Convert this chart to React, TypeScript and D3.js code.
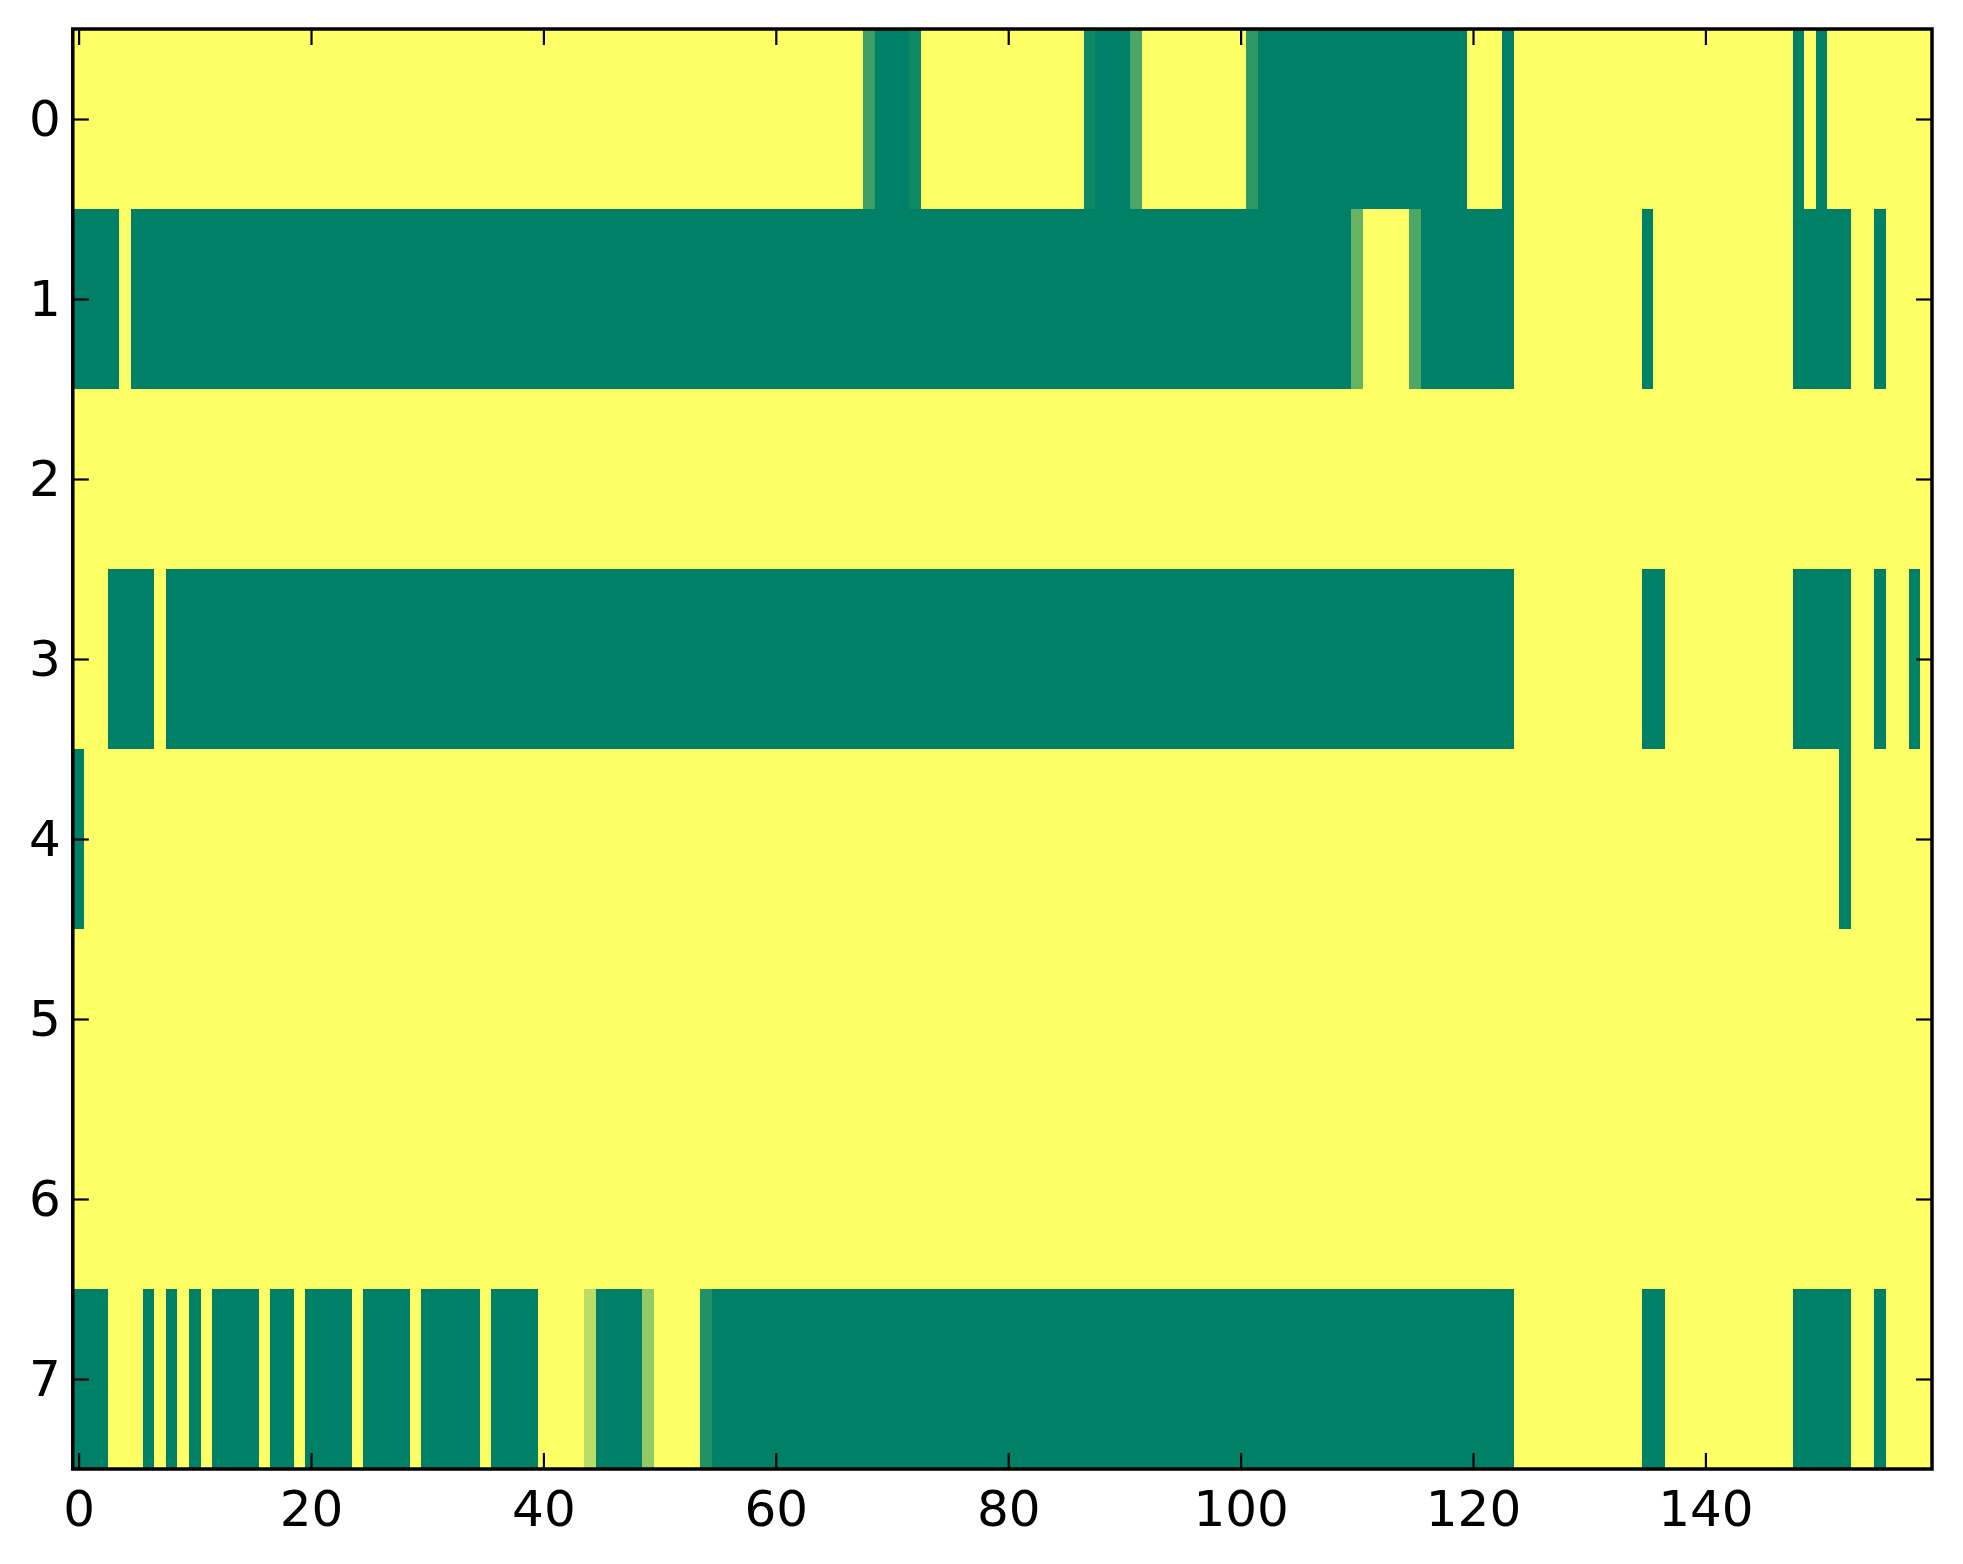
import React, { useEffect, useRef } from 'react';
import * as d3 from 'd3';

// one array per image row, 160 columns each
const row0 = [
  1, 1, 1, 1, 1, 1, 1, 1, 1, 1, 1, 1, 1, 1, 1, 1, 1, 1, 1, 1,
  1, 1, 1, 1, 1, 1, 1, 1, 1, 1, 1, 1, 1, 1, 1, 1, 1, 1, 1, 1,
  1, 1, 1, 1, 1, 1, 1, 1, 1, 1, 1, 1, 1, 1, 1, 1, 1, 1, 1, 1,
  1, 1, 1, 1, 1, 1, 1, 1, 0.24, 0, 0, 0, 0.06, 1, 1, 1, 1, 1, 1, 1,
  1, 1, 1, 1, 1, 1, 1, 0.06, 0, 0, 0, 0.29, 1, 1, 1, 1, 1, 1, 1, 1,
  1, 0.18, 0, 0, 0, 0, 0, 0, 0, 0, 0, 0, 0, 0, 0, 0, 0, 0, 0, 0,
  1, 1, 1, 0, 1, 1, 1, 1, 1, 1, 1, 1, 1, 1, 1, 1, 1, 1, 1, 1,
  1, 1, 1, 1, 1, 1, 1, 1, 0, 1, 0, 1, 1, 1, 1, 1, 1, 1, 1, 1,
];
const row1 = [
  0, 0, 0, 0, 1, 0, 0, 0, 0, 0, 0, 0, 0, 0, 0, 0, 0, 0, 0, 0,
  0, 0, 0, 0, 0, 0, 0, 0, 0, 0, 0, 0, 0, 0, 0, 0, 0, 0, 0, 0,
  0, 0, 0, 0, 0, 0, 0, 0, 0, 0, 0, 0, 0, 0, 0, 0, 0, 0, 0, 0,
  0, 0, 0, 0, 0, 0, 0, 0, 0, 0, 0, 0, 0, 0, 0, 0, 0, 0, 0, 0,
  0, 0, 0, 0, 0, 0, 0, 0, 0, 0, 0, 0, 0, 0, 0, 0, 0, 0, 0, 0,
  0, 0, 0, 0, 0, 0, 0, 0, 0, 0, 0.4, 1, 1, 1, 1, 0.31, 0, 0, 0, 0,
  0, 0, 0, 0, 1, 1, 1, 1, 1, 1, 1, 1, 1, 1, 1, 0, 1, 1, 1, 1,
  1, 1, 1, 1, 1, 1, 1, 1, 0, 0, 0, 0, 0, 1, 1, 0, 1, 1, 1, 1,
];
const row2 = [
  1, 1, 1, 1, 1, 1, 1, 1, 1, 1, 1, 1, 1, 1, 1, 1, 1, 1, 1, 1,
  1, 1, 1, 1, 1, 1, 1, 1, 1, 1, 1, 1, 1, 1, 1, 1, 1, 1, 1, 1,
  1, 1, 1, 1, 1, 1, 1, 1, 1, 1, 1, 1, 1, 1, 1, 1, 1, 1, 1, 1,
  1, 1, 1, 1, 1, 1, 1, 1, 1, 1, 1, 1, 1, 1, 1, 1, 1, 1, 1, 1,
  1, 1, 1, 1, 1, 1, 1, 1, 1, 1, 1, 1, 1, 1, 1, 1, 1, 1, 1, 1,
  1, 1, 1, 1, 1, 1, 1, 1, 1, 1, 1, 1, 1, 1, 1, 1, 1, 1, 1, 1,
  1, 1, 1, 1, 1, 1, 1, 1, 1, 1, 1, 1, 1, 1, 1, 1, 1, 1, 1, 1,
  1, 1, 1, 1, 1, 1, 1, 1, 1, 1, 1, 1, 1, 1, 1, 1, 1, 1, 1, 1,
];
const row3 = [
  1, 1, 1, 0, 0, 0, 0, 1, 0, 0, 0, 0, 0, 0, 0, 0, 0, 0, 0, 0,
  0, 0, 0, 0, 0, 0, 0, 0, 0, 0, 0, 0, 0, 0, 0, 0, 0, 0, 0, 0,
  0, 0, 0, 0, 0, 0, 0, 0, 0, 0, 0, 0, 0, 0, 0, 0, 0, 0, 0, 0,
  0, 0, 0, 0, 0, 0, 0, 0, 0, 0, 0, 0, 0, 0, 0, 0, 0, 0, 0, 0,
  0, 0, 0, 0, 0, 0, 0, 0, 0, 0, 0, 0, 0, 0, 0, 0, 0, 0, 0, 0,
  0, 0, 0, 0, 0, 0, 0, 0, 0, 0, 0, 0, 0, 0, 0, 0, 0, 0, 0, 0,
  0, 0, 0, 0, 1, 1, 1, 1, 1, 1, 1, 1, 1, 1, 1, 0, 0, 1, 1, 1,
  1, 1, 1, 1, 1, 1, 1, 1, 0, 0, 0, 0, 0, 1, 1, 0, 1, 1, 0, 1,
];
const row4 = [
  0, 1, 1, 1, 1, 1, 1, 1, 1, 1, 1, 1, 1, 1, 1, 1, 1, 1, 1, 1,
  1, 1, 1, 1, 1, 1, 1, 1, 1, 1, 1, 1, 1, 1, 1, 1, 1, 1, 1, 1,
  1, 1, 1, 1, 1, 1, 1, 1, 1, 1, 1, 1, 1, 1, 1, 1, 1, 1, 1, 1,
  1, 1, 1, 1, 1, 1, 1, 1, 1, 1, 1, 1, 1, 1, 1, 1, 1, 1, 1, 1,
  1, 1, 1, 1, 1, 1, 1, 1, 1, 1, 1, 1, 1, 1, 1, 1, 1, 1, 1, 1,
  1, 1, 1, 1, 1, 1, 1, 1, 1, 1, 1, 1, 1, 1, 1, 1, 1, 1, 1, 1,
  1, 1, 1, 1, 1, 1, 1, 1, 1, 1, 1, 1, 1, 1, 1, 1, 1, 1, 1, 1,
  1, 1, 1, 1, 1, 1, 1, 1, 1, 1, 1, 1, 0, 1, 1, 1, 1, 1, 1, 1,
];
const row5 = [
  1, 1, 1, 1, 1, 1, 1, 1, 1, 1, 1, 1, 1, 1, 1, 1, 1, 1, 1, 1,
  1, 1, 1, 1, 1, 1, 1, 1, 1, 1, 1, 1, 1, 1, 1, 1, 1, 1, 1, 1,
  1, 1, 1, 1, 1, 1, 1, 1, 1, 1, 1, 1, 1, 1, 1, 1, 1, 1, 1, 1,
  1, 1, 1, 1, 1, 1, 1, 1, 1, 1, 1, 1, 1, 1, 1, 1, 1, 1, 1, 1,
  1, 1, 1, 1, 1, 1, 1, 1, 1, 1, 1, 1, 1, 1, 1, 1, 1, 1, 1, 1,
  1, 1, 1, 1, 1, 1, 1, 1, 1, 1, 1, 1, 1, 1, 1, 1, 1, 1, 1, 1,
  1, 1, 1, 1, 1, 1, 1, 1, 1, 1, 1, 1, 1, 1, 1, 1, 1, 1, 1, 1,
  1, 1, 1, 1, 1, 1, 1, 1, 1, 1, 1, 1, 1, 1, 1, 1, 1, 1, 1, 1,
];
const row6 = [
  1, 1, 1, 1, 1, 1, 1, 1, 1, 1, 1, 1, 1, 1, 1, 1, 1, 1, 1, 1,
  1, 1, 1, 1, 1, 1, 1, 1, 1, 1, 1, 1, 1, 1, 1, 1, 1, 1, 1, 1,
  1, 1, 1, 1, 1, 1, 1, 1, 1, 1, 1, 1, 1, 1, 1, 1, 1, 1, 1, 1,
  1, 1, 1, 1, 1, 1, 1, 1, 1, 1, 1, 1, 1, 1, 1, 1, 1, 1, 1, 1,
  1, 1, 1, 1, 1, 1, 1, 1, 1, 1, 1, 1, 1, 1, 1, 1, 1, 1, 1, 1,
  1, 1, 1, 1, 1, 1, 1, 1, 1, 1, 1, 1, 1, 1, 1, 1, 1, 1, 1, 1,
  1, 1, 1, 1, 1, 1, 1, 1, 1, 1, 1, 1, 1, 1, 1, 1, 1, 1, 1, 1,
  1, 1, 1, 1, 1, 1, 1, 1, 1, 1, 1, 1, 1, 1, 1, 1, 1, 1, 1, 1,
];
const row7 = [
  0, 0, 0, 1, 1, 1, 0, 1, 0, 1, 0, 1, 0, 0, 0, 0, 1, 0, 0, 1,
  0, 0, 0, 0, 1, 0, 0, 0, 0, 1, 0, 0, 0, 0, 0, 1, 0, 0, 0, 0,
  1, 1, 1, 1, 0.73, 0, 0, 0, 0, 0.58, 1, 1, 1, 1, 0.13, 0, 0, 0, 0, 0,
  0, 0, 0, 0, 0, 0, 0, 0, 0, 0, 0, 0, 0, 0, 0, 0, 0, 0, 0, 0,
  0, 0, 0, 0, 0, 0, 0, 0, 0, 0, 0, 0, 0, 0, 0, 0, 0, 0, 0, 0,
  0, 0, 0, 0, 0, 0, 0, 0, 0, 0, 0, 0, 0, 0, 0, 0, 0, 0, 0, 0,
  0, 0, 0, 0, 1, 1, 1, 1, 1, 1, 1, 1, 1, 1, 1, 0, 0, 1, 1, 1,
  1, 1, 1, 1, 1, 1, 1, 1, 0, 0, 0, 0, 0, 1, 1, 0, 1, 1, 1, 1,
];

const yTicks = [0, 1, 2, 3, 4, 5, 6, 7];
const xTicks = [0, 20, 40, 60, 80, 100, 120, 140];

const WIDTH = 1963;
const HEIGHT = 1564;
const PLOT = { left: 72.8, right: 1932, top: 29, bottom: 1469 };
const TICK = 16;

const App: React.FC = () => {
  const svgRef = useRef<SVGSVGElement | null>(null);

  useEffect(() => {
    const rows = [row0, row1, row2, row3, row4, row5, row6, row7];
    const nCols = row0.length;
    const svg = d3.select(svgRef.current);
    svg.selectAll('*').remove();

    const x = d3.scaleLinear().domain([-0.5, nCols - 0.5]).range([PLOT.left, PLOT.right]);
    const y = d3.scaleLinear().domain([-0.5, rows.length - 0.5]).range([PLOT.top, PLOT.bottom]);

    const all = rows.flat();
    // matplotlib "summer"
    const color = d3
      .scaleLinear<string>()
      .domain([d3.min(all) as number, d3.max(all) as number])
      .range(['#008066', '#ffff66'])
      .interpolate(d3.interpolateRgb);

    const cells = rows.flatMap((r, i) => r.map((v, j) => ({ i, j, v })));

    svg
      .append('g')
      .attr('shape-rendering', 'crispEdges')
      .selectAll('rect')
      .data(cells)
      .join('rect')
      .attr('x', (d) => x(d.j - 0.5))
      .attr('y', (d) => y(d.i - 0.5))
      .attr('width', (d) => x(d.j + 0.5) - x(d.j - 0.5))
      .attr('height', (d) => y(d.i + 0.5) - y(d.i - 0.5))
      .attr('fill', (d) => color(d.v));

    const styleAxis = (g: d3.Selection<SVGGElement, unknown, null, undefined>) => {
      g.select('.domain').remove();
      g.attr('font-family', '"DejaVu Sans"').attr('font-size', 50);
      g.selectAll('line').attr('stroke', '#000').attr('stroke-width', 2.2);
      g.selectAll('text').attr('fill', '#000');
    };

    svg
      .append('g')
      .attr('transform', `translate(0,${PLOT.bottom})`)
      .call(d3.axisBottom(x).tickValues(xTicks).tickSizeInner(-TICK).tickSizeOuter(0).tickPadding(21))
      .call(styleAxis);

    svg
      .append('g')
      .attr('transform', `translate(0,${PLOT.top})`)
      .call(d3.axisTop(x).tickValues(xTicks).tickSizeInner(-TICK).tickSizeOuter(0).tickFormat(() => ''))
      .call(styleAxis);

    svg
      .append('g')
      .attr('transform', `translate(${PLOT.left},0)`)
      .call(d3.axisLeft(y).tickValues(yTicks).tickSizeInner(-TICK).tickSizeOuter(0).tickPadding(12))
      .call(styleAxis);

    svg
      .append('g')
      .attr('transform', `translate(${PLOT.right},0)`)
      .call(d3.axisRight(y).tickValues(yTicks).tickSizeInner(-TICK).tickSizeOuter(0).tickFormat(() => ''))
      .call(styleAxis);

    svg
      .append('rect')
      .attr('x', PLOT.left)
      .attr('y', PLOT.top)
      .attr('width', PLOT.right - PLOT.left)
      .attr('height', PLOT.bottom - PLOT.top)
      .attr('fill', 'none')
      .attr('stroke', '#000')
      .attr('stroke-width', 3.5);
  }, []);

  return (
    <svg
      ref={svgRef}
      width={WIDTH}
      height={HEIGHT}
      style={{ position: 'absolute', left: 0, top: 0, background: '#fff' }}
    />
  );
};

export default App;
